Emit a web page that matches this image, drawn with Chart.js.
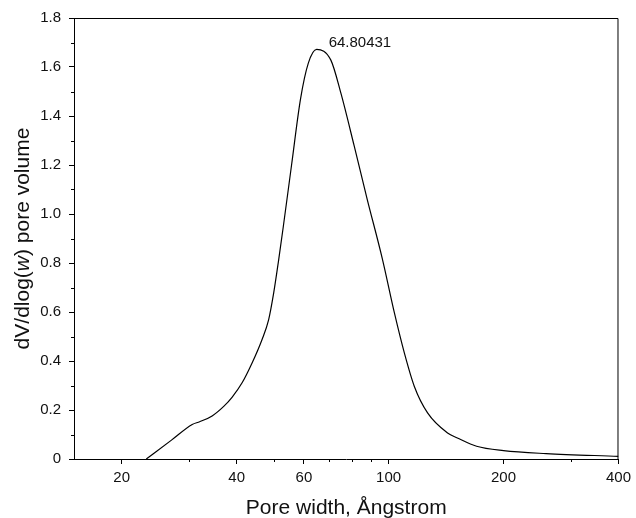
<!DOCTYPE html>
<html>
<head>
<meta charset="utf-8">
<script src="https://cdn.jsdelivr.net/npm/chart.js@4"></script>
<style>
  body { margin: 0; background: #fff; }
</style>
</head>
<body>
<canvas id="poreChart" width="636" height="518"></canvas>
<script>
// pore width (Angstrom) and dV/dlog(w)
var poreWidth = [23.2, 27, 30.6, 32, 34.5, 37, 38.9, 41.3, 43.9, 46.6, 48.5, 50, 51.5, 53, 55.7, 58.8, 61.6, 64.8,
                 70.6, 75, 81.2, 87.9, 96.2, 103.6, 110, 116.8, 126.5, 142.7, 151.4, 170, 200, 258.6, 400];
var poreVolume = [0, 0.077, 0.141, 0.152, 0.176, 0.215, 0.252, 0.31, 0.392, 0.487, 0.568, 0.677, 0.81, 0.949, 1.2, 1.47, 1.615, 1.672,
                  1.628, 1.493, 1.28, 1.06, 0.82, 0.595, 0.432, 0.296, 0.188, 0.106, 0.086, 0.052, 0.034, 0.022, 0.011];
var xMajorTicks = [20, 40, 60, 100, 200, 400];
var xMinorTicks = [30, 50, 70, 80, 90, 300];
var yMinorTicks = [0.1, 0.3, 0.5, 0.7, 0.9, 1.1, 1.3, 1.5, 1.7];
var peakWidth = 64.8;
var peakVolume = 1.672;
var peakLabel = '64.80431';

var FONT = '"Liberation Sans", Arial, sans-serif';
var points = poreWidth.map(function (w, i) { return { x: w, y: poreVolume[i] }; });

var extras = {
  id: 'extras',
  afterDraw: function (chart) {
    var c = chart.ctx, a = chart.chartArea;
    var xs = chart.scales.x, ys = chart.scales.y;
    c.save();
    c.strokeStyle = '#000';
    c.lineWidth = 1;
    // top and right frame
    c.beginPath();
    c.moveTo(a.left, a.top + 0.5);
    c.lineTo(a.right - 0.5, a.top + 0.5);
    c.lineTo(a.right - 0.5, a.bottom);
    c.stroke();
    // minor ticks
    c.beginPath();
    xMinorTicks.forEach(function (v) {
      var px = Math.round(xs.getPixelForValue(v)) + 0.5;
      c.moveTo(px, a.bottom);
      c.lineTo(px, a.bottom + 3);
    });
    yMinorTicks.forEach(function (v) {
      var py = Math.round(ys.getPixelForValue(v)) + 0.5;
      c.moveTo(a.left - 3, py);
      c.lineTo(a.left, py);
    });
    c.stroke();
    // peak label
    c.fillStyle = '#111';
    c.font = '15px ' + FONT;
    c.textBaseline = 'alphabetic';
    c.fillText(peakLabel, xs.getPixelForValue(peakWidth) + 12, ys.getPixelForValue(peakVolume) - 2);
    // x title
    c.font = '21px ' + FONT;
    c.textAlign = 'center';
    c.fillText('Pore width, \u00c5ngstrom', (a.left + a.right) / 2, 514);
    // y title with italic w
    var parts = [['dV/dlog(', ''], ['w', 'italic '], [') pore volume', '']];
    var total = 0;
    parts.forEach(function (p) {
      c.font = p[1] + '21px ' + FONT;
      total += c.measureText(p[0]).width;
    });
    c.translate(29, (a.top + a.bottom) / 2);
    c.rotate(-Math.PI / 2);
    c.textAlign = 'left';
    var x = -total / 2;
    parts.forEach(function (p) {
      c.font = p[1] + '21px ' + FONT;
      c.fillText(p[0], x, 0);
      x += c.measureText(p[0]).width;
    });
    c.restore();
  }
};

new Chart(document.getElementById('poreChart').getContext('2d'), {
  type: 'line',
  data: {
    datasets: [{
      data: points,
      borderColor: '#000',
      borderWidth: 1.2,
      pointRadius: 0,
      fill: false,
      cubicInterpolationMode: 'monotone'
    }]
  },
  options: {
    responsive: false,
    animation: false,
    layout: { padding: { top: 18, right: 14, left: 0, bottom: 0 } },
    plugins: { legend: { display: false }, tooltip: { enabled: false } },
    scales: {
      x: {
        type: 'logarithmic',
        min: 15,
        max: 400,
        afterBuildTicks: function (scale) {
          scale.ticks = xMajorTicks.map(function (v) { return { value: v }; });
        },
        afterFit: function (scale) { scale.height = 59; },
        ticks: {
          autoSkip: false,
          maxRotation: 0,
          padding: 5,
          color: '#111',
          font: { family: FONT, size: 15 },
          callback: function (v) { return String(v); }
        },
        grid: { drawOnChartArea: false, tickLength: 5, tickColor: '#000' },
        border: { color: '#000', width: 1 }
      },
      y: {
        min: 0,
        max: 1.8,
        afterFit: function (scale) { scale.width = 74; },
        ticks: {
          stepSize: 0.2,
          padding: 8,
          color: '#111',
          font: { family: FONT, size: 15 },
          callback: function (v) { return v === 0 ? '0' : v.toFixed(1); }
        },
        grid: { drawOnChartArea: false, tickLength: 5, tickColor: '#000' },
        border: { color: '#000', width: 1 }
      }
    }
  },
  plugins: [extras]
});
</script>
</body>
</html>
